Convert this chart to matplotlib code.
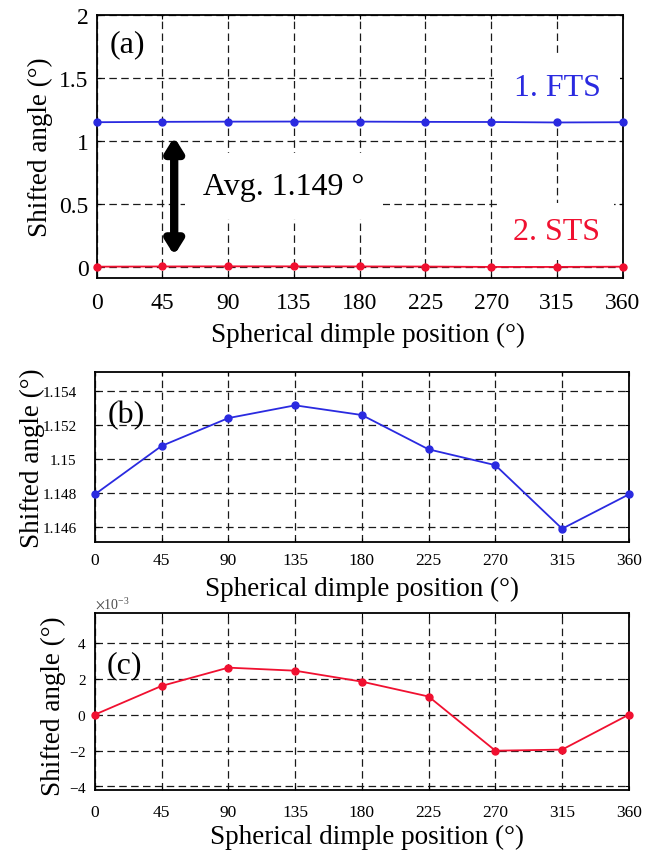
import matplotlib
matplotlib.use("Agg")
import matplotlib.pyplot as plt
from matplotlib.ticker import FuncFormatter, ScalarFormatter

# angular position of the spherical dimple (deg)
positions = [0, 45, 90, 135, 180, 225, 270, 315, 360]
# shifted angle of the first tilting stage (deg)
fts_shift = [1.1479, 1.15075, 1.15239, 1.15314, 1.15257, 1.15055, 1.14962, 1.14588, 1.1479]
# shifted angle of the second tilting stage (deg)
sts_shift = [0.0, 1.60e-3, 2.62e-3, 2.45e-3, 1.84e-3, 1.01e-3, -2.01e-3, -1.95e-3, 0.0]

ticks_a = [0, 0.5, 1, 1.5, 2]
ticks_b = [1.146, 1.148, 1.150, 1.152, 1.154]
ticks_c = [-4e-3, -2e-3, 0, 2e-3, 4e-3]

plt.rcParams["font.family"] = ["Liberation Serif", "DejaVu Serif"]
plt.rcParams["mathtext.fontset"] = "stix"
plt.rcParams["axes.unicode_minus"] = False

BLUE = "#2a2ae0"
RED = "#f01030"
XLABEL = "Spherical dimple position (°)"
YLABEL = "Shifted angle (°)"


def style_axes(ax, xsize, ysize, xpad, ypad):
    ax.set_xlim(0, 360)
    ax.set_xticks(positions)
    ax.set_axisbelow(True)
    ax.grid(True, color="0.1", linestyle=(0, (6, 3.5)), linewidth=0.9)
    for sp in ax.spines.values():
        sp.set_linewidth(1.3)
    ax.tick_params(direction="in", length=3, width=0.8, top=True, right=True)
    ax.tick_params(axis="x", labelsize=xsize, pad=xpad)
    ax.tick_params(axis="y", labelsize=ysize, pad=ypad)


fig = plt.figure(figsize=(6.45, 8.54), dpi=100)
ax_a = fig.add_axes([0.150, 0.6733, 0.8155, 0.308])
ax_b = fig.add_axes([0.147, 0.3642, 0.828, 0.199])
ax_c = fig.add_axes([0.147, 0.0738, 0.828, 0.2073])

# (a) both stages on a common scale
style_axes(ax_a, 17, 17, 10, 6)
ax_a.plot(positions, fts_shift, "-o", color=BLUE, lw=1.3, ms=5, clip_on=False, zorder=4)
ax_a.plot(positions, sts_shift, "-o", color=RED, lw=1.3, ms=5, clip_on=False, zorder=4)
ax_a.set_ylim(-0.09, 2.0)
ax_a.set_yticks(ticks_a)
ax_a.yaxis.set_major_formatter(FuncFormatter(lambda v, p: "%g" % v))
ax_a.set_xlabel(XLABEL, fontsize=19.5)
ax_a.set_ylabel(YLABEL, fontsize=19.5)
ax_a.xaxis.set_label_coords(0.515, -0.165)
ax_a.yaxis.set_label_coords(-0.084, 0.5)
ax_a.text(21, 1.77, "(a)", fontsize=23, ha="center", va="center")
# labels sit on white boxes above the grid but under the frame
ax_a.text(315, 1.42, "1. FTS", color=BLUE, fontsize=23, ha="center", va="center",
          bbox=dict(fc="white", ec="none", pad=14), zorder=2.2)
ax_a.text(315, 0.28, "2. STS", color=RED, fontsize=23, ha="center", va="center",
          bbox=dict(fc="white", ec="none", pad=10), zorder=2.2)
ax_a.text(128, 0.64, "Avg. 1.149 °", fontsize=23, ha="center", va="center",
          bbox=dict(fc="white", ec="none", pad=13), zorder=2.2)
ax_a.annotate("", xy=(53, 1.03), xytext=(53, 0.09),
              arrowprops=dict(arrowstyle="<|-|>,head_length=0.8,head_width=0.5",
                              lw=6, color="black", shrinkA=0, shrinkB=0), zorder=5)

# (b) first tilting stage
style_axes(ax_b, 12.5, 11, 7, 13)
ax_b.plot(positions, fts_shift, "-o", color=BLUE, lw=1.3, ms=5, clip_on=False, zorder=4)
ax_b.set_ylim(1.1451, 1.1551)
ax_b.set_yticks(ticks_b)
ax_b.yaxis.set_major_formatter(FuncFormatter(lambda v, p: "%g" % round(v, 4)))
ax_b.set_xlabel(XLABEL, fontsize=19.5)
ax_b.set_ylabel(YLABEL, fontsize=19.5)
ax_b.xaxis.set_label_coords(0.5, -0.2)
ax_b.yaxis.set_label_coords(-0.094, 0.5)
ax_b.text(21, 1.1526, "(b)", fontsize=23, ha="center", va="center")

# (c) second tilting stage
style_axes(ax_c, 12.5, 11, 10, 6)
ax_c.plot(positions, sts_shift, "-o", color=RED, lw=1.3, ms=5, clip_on=False, zorder=4)
ax_c.set_ylim(-4.2e-3, 5.67e-3)
ax_c.set_yticks(ticks_c)
fmt = ScalarFormatter(useMathText=True)
fmt.set_powerlimits((0, 0))
ax_c.yaxis.set_major_formatter(fmt)
ax_c.yaxis.get_offset_text().set_fontsize(10)
ax_c.yaxis.get_offset_text().set_color("0.3")
ax_c.set_xlabel(XLABEL, fontsize=19.5)
ax_c.set_ylabel(YLABEL, fontsize=19.5)
ax_c.xaxis.set_label_coords(0.51, -0.19)
ax_c.yaxis.set_label_coords(-0.054, 0.48)
ax_c.text(20, 2.78e-3, "(c)", fontsize=23, ha="center", va="center")

fig.savefig("out.png", dpi=100)
